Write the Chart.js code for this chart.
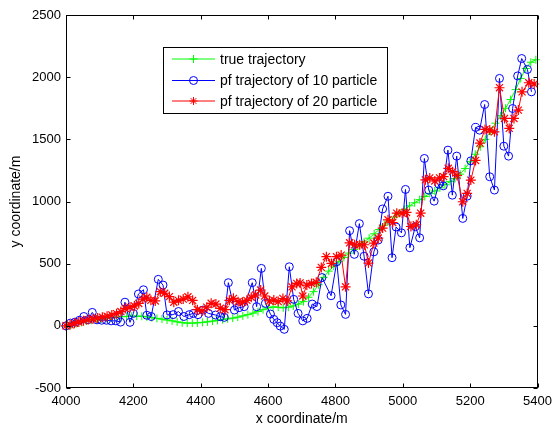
<!DOCTYPE html>
<html>
<head>
<meta charset="utf-8">
<script src="https://cdn.jsdelivr.net/npm/chart.js@4"></script>
<style>
  html, body { margin: 0; padding: 0; background: #fff; }
  #wrap { width: 558px; height: 430px; }
</style>
</head>
<body>
<div id="wrap"><canvas id="c" width="558" height="430"></canvas></div>
<script>
// axis ticks
const xTicks = [4000, 4200, 4400, 4600, 4800, 5000, 5200, 5400];
const yTicks = [-500, 0, 500, 1000, 1500, 2000, 2500];

// true trajectory
const trueX = [4000, 4015, 4030, 4045, 4060, 4075, 4090, 4105, 4120, 4135, 4150, 4165, 4180, 4195, 4210, 4225,
  4240, 4255, 4270, 4285, 4300, 4315, 4330, 4345, 4360, 4375, 4390, 4405, 4420, 4435, 4450, 4465, 4480, 4495,
  4510, 4525, 4540, 4555, 4570, 4585, 4600, 4615, 4630, 4645, 4660, 4675, 4690, 4705, 4720, 4735, 4750, 4765,
  4780, 4795, 4810, 4825, 4840, 4855, 4870, 4885, 4900, 4915, 4930, 4945, 4960, 4975, 4990, 5005, 5020, 5035,
  5050, 5065, 5080, 5095, 5110, 5125, 5140, 5155, 5170, 5185, 5200, 5215, 5230, 5245, 5260, 5275, 5290, 5305,
  5320, 5335, 5350, 5365, 5380, 5395];
const trueY = [0, 8, 18, 28, 38, 45, 50, 55, 60, 65, 70, 73, 76, 78, 78, 77,
  72, 66, 60, 54, 47, 40, 32, 25, 22, 22, 24, 28, 32, 38, 44, 50, 56, 62,
  70, 80, 90, 102, 115, 130, 145, 152, 150, 145, 150, 160, 175, 195, 230, 275, 330, 390,
  440, 480, 515, 550, 585, 615, 645, 675, 705, 740, 775, 810, 845, 875, 905, 935, 965, 990,
  1015, 1040, 1065, 1085, 1110, 1135, 1160, 1185, 1220, 1265, 1320, 1380, 1440, 1500, 1565, 1630, 1690, 1750,
  1820, 1900, 1990, 2070, 2120, 2140];

// pf with 10 particles
const pf10X = [4000, 4013, 4027, 4040, 4053, 4066, 4078, 4092, 4106, 4120, 4134, 4148, 4162, 4175, 4190, 4200,
  4215, 4230, 4240, 4253, 4274, 4288, 4300, 4318, 4334, 4350, 4366, 4378, 4392, 4407, 4423, 4444, 4458, 4470,
  4482, 4500, 4514, 4529, 4553, 4566, 4580, 4592, 4607, 4617, 4627, 4636, 4648, 4663, 4676, 4689, 4703, 4716,
  4731, 4745, 4760, 4787, 4804, 4816, 4830, 4842, 4856, 4871, 4885, 4898, 4914, 4927, 4940, 4956, 4968, 4980,
  4996, 5008, 5021, 5037, 5050, 5064, 5077, 5093, 5107, 5120, 5134, 5147, 5160, 5178, 5191, 5202, 5216, 5228,
  5243, 5258, 5272, 5287, 5300, 5314, 5326, 5341, 5353, 5370, 5382];
const pf10Y = [0, 22, 30, 45, 75, 50, 108, 48, 45, 45, 40, 40, 30, 190, 28, 100,
  256, 290, 85, 75, 374, 328, 88, 90, 115, 75, 90, 100, 90, 127, 100, 87, 73, 68,
  347, 127, 146, 154, 347, 154, 462, 181, 95, 52, 25, -2, -28, 475, 213, 100, 40, 60,
  175, 155, 388, 242, 516, 168, 92, 765, 575, 822, 560, 257, 595, 690, 940, 1042, 548, 795,
  748, 1097, 628, 797, 708, 1346, 1092, 1003, 1140, 1126, 1413, 1051, 1365, 864, 1043, 1327, 1596, 1574,
  1780, 1199, 1092, 1990, 1445, 1365, 1748, 2010, 2150, 2062, 1882];

// pf with 20 particles
const pf20X = [4000, 4012, 4025, 4038, 4052, 4066, 4080, 4094, 4108, 4122, 4136, 4150, 4163, 4176, 4190, 4203,
  4216, 4228, 4240, 4252, 4265, 4280, 4293, 4307, 4320, 4334, 4348, 4362, 4376, 4390, 4404, 4418, 4431, 4445,
  4458, 4472, 4485, 4497, 4511, 4524, 4537, 4550, 4563, 4578, 4590, 4604, 4617, 4630, 4644, 4657, 4671, 4685,
  4695, 4703, 4715, 4729, 4743, 4758, 4773, 4788, 4803, 4817, 4830, 4842, 4857, 4872, 4886, 4898, 4914, 4927,
  4940, 4956, 4970, 4982, 4998, 5011, 5024, 5040, 5053, 5067, 5080, 5095, 5109, 5121, 5135, 5148, 5161, 5178,
  5191, 5202, 5216, 5229, 5244, 5258, 5272, 5287, 5302, 5316, 5330, 5343, 5354, 5374, 5390];
const pf20Y = [0, 8, 20, 30, 40, 50, 55, 62, 70, 78, 88, 98, 115, 140, 150, 160,
  180, 215, 230, 205, 200, 275, 262, 235, 190, 205, 215, 234, 205, 130, 120, 150, 181, 175,
  141, 130, 205, 221, 194, 190, 205, 230, 248, 288, 240, 200, 207, 195, 220, 200, 314, 341,
  345, 240, 328, 341, 350, 470, 556, 502, 556, 569, 314, 668, 652, 652, 652, 505, 666, 706,
  786, 853, 831, 906, 906, 912, 799, 813, 906, 1174, 1190, 1165, 1190, 1200, 1267, 1240, 1210, 998,
  1065, 1172, 1330, 1470, 1580, 1575, 1560, 1915, 1668, 1588, 1668, 1735, 1882, 1955, 1945];

const labels = ['true trajectory', 'pf trajectory of 10 particle', 'pf trajectory of 20 particle'];
const colors = ['#00ff00', '#0000ff', '#ff0000'];
const markers = ['cross', 'circle', 'star'];

function pts(xs, ys) {
  return xs.map((x, i) => ({ x: x, y: ys[i] }));
}

function drawMarker(ctx, style, x, y, r) {
  ctx.beginPath();
  if (style === 'circle') {
    ctx.arc(x, y, r, 0, Math.PI * 2);
  } else {
    ctx.moveTo(x - r, y); ctx.lineTo(x + r, y);
    ctx.moveTo(x, y - r); ctx.lineTo(x, y + r);
    if (style === 'star') {
      const d = r * 0.707;
      ctx.moveTo(x - d, y - d); ctx.lineTo(x + d, y + d);
      ctx.moveTo(x - d, y + d); ctx.lineTo(x + d, y - d);
    }
  }
  ctx.stroke();
}

// box and inward ticks like matlab
const boxPlugin = {
  id: 'box',
  afterDatasetsDraw(chart) {
    const { ctx, chartArea: a, scales } = chart;
    const L = Math.round(a.left) + 0.5, R = Math.round(a.right) - 0.5;
    const T = Math.round(a.top) + 0.5, B = Math.round(a.bottom) - 0.5;
    ctx.save();
    ctx.strokeStyle = '#000';
    ctx.lineWidth = 1;
    ctx.strokeRect(L, T, R - L, B - T);
    ctx.beginPath();
    xTicks.forEach(v => {
      const px = Math.round(scales.x.getPixelForValue(v)) + 0.5;
      ctx.moveTo(px, B); ctx.lineTo(px, B - 4);
      ctx.moveTo(px, T); ctx.lineTo(px, T + 4);
    });
    yTicks.forEach(v => {
      const py = Math.round(scales.y.getPixelForValue(v)) + 0.5;
      ctx.moveTo(L, py); ctx.lineTo(L + 4, py);
      ctx.moveTo(R, py); ctx.lineTo(R - 4, py);
    });
    ctx.stroke();
    ctx.restore();
  },
  afterDraw(chart) {
    const ctx = chart.ctx;
    const bx = 163.5, by = 47.5, bw = 224, bh = 66;
    ctx.save();
    ctx.fillStyle = '#fff';
    ctx.fillRect(bx, by, bw, bh);
    ctx.strokeStyle = '#000';
    ctx.lineWidth = 1;
    ctx.strokeRect(bx, by, bw, bh);
    ctx.font = '14px "Liberation Sans", Arial, sans-serif';
    ctx.textBaseline = 'middle';
    ctx.textAlign = 'left';
    const rows = [59, 80.5, 101];
    labels.forEach((t, i) => {
      const y = rows[i];
      ctx.strokeStyle = colors[i];
      ctx.lineWidth = 1;
      ctx.beginPath();
      ctx.moveTo(172, y); ctx.lineTo(215, y);
      ctx.stroke();
      drawMarker(ctx, markers[i], 193.5, y, 4);
      ctx.fillStyle = '#000';
      ctx.fillText(t, 220, y + 1);
    });
    ctx.restore();
  }
};

const tickFont = { family: '"Liberation Sans", Arial, sans-serif', size: 13 };
const titleFont = { family: '"Liberation Sans", Arial, sans-serif', size: 14 };

new Chart(document.getElementById('c'), {
  type: 'scatter',
  data: {
    datasets: [
      {
        label: labels[0], data: pts(trueX, trueY), showLine: true,
        borderColor: colors[0], borderWidth: 1, backgroundColor: colors[0],
        pointStyle: markers[0], pointRadius: 4, pointBorderWidth: 1, pointBorderColor: colors[0],
        order: 3, clip: false
      },
      {
        label: labels[1], data: pts(pf10X, pf10Y), showLine: true,
        borderColor: colors[1], borderWidth: 1, backgroundColor: 'rgba(0,0,0,0)',
        pointStyle: markers[1], pointRadius: 4, pointBorderWidth: 1, pointBorderColor: colors[1],
        pointBackgroundColor: 'rgba(0,0,0,0)', order: 2, clip: false
      },
      {
        label: labels[2], data: pts(pf20X, pf20Y), showLine: true,
        borderColor: colors[2], borderWidth: 1, backgroundColor: colors[2],
        pointStyle: markers[2], pointRadius: 5, pointBorderWidth: 1.2, pointBorderColor: colors[2],
        order: 1, clip: false
      }
    ]
  },
  options: {
    responsive: false,
    animation: false,
    events: [],
    layout: { padding: { top: 15, right: 14, left: 0, bottom: 0 } },
    plugins: { legend: { display: false }, tooltip: { enabled: false } },
    scales: {
      x: {
        type: 'linear', min: 4000, max: 5400,
        afterBuildTicks: s => { s.ticks = xTicks.map(v => ({ value: v })); },
        afterFit: s => { s.height = 42; },
        grid: { display: false, drawTicks: false },
        border: { display: false },
        ticks: { color: '#000', font: tickFont, padding: 6, maxRotation: 0, autoSkip: false, callback: v => String(v) },
        title: { display: true, text: 'x coordinate/m', color: '#000', font: titleFont, padding: { top: 0, bottom: 2 } }
      },
      y: {
        type: 'linear', min: -500, max: 2500,
        afterBuildTicks: s => { s.ticks = yTicks.map(v => ({ value: v })); },
        afterFit: s => { s.width = 66; },
        grid: { display: false, drawTicks: false },
        border: { display: false },
        ticks: { color: '#000', font: tickFont, padding: 5, autoSkip: false, callback: v => String(v) },
        title: { display: true, text: 'y coordinate/m', color: '#000', font: titleFont, padding: { top: 8, bottom: 0 } }
      }
    }
  },
  plugins: [boxPlugin]
});
</script>
</body>
</html>
